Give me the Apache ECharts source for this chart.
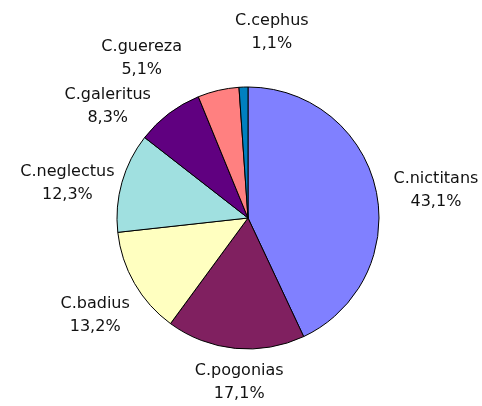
<!DOCTYPE html>
<html>
<head>
<meta charset="utf-8">
<script src="https://cdn.jsdelivr.net/npm/echarts@6/dist/echarts.min.js"></script>
<style>html,body{margin:0;padding:0;background:#fff}#c{width:482px;height:406px}</style>
</head>
<body>
<div id="c"></div>
<script>
// Data
const categories = ['C.nictitans', 'C.pogonias', 'C.badius', 'C.neglectus', 'C.galeritus', 'C.guereza', 'C.cephus'];
const values = [43.1, 17.1, 13.2, 12.3, 8.3, 5.1, 1.1];

// Style / layout constants
const colors = ['#8080FF', '#802060', '#FFFFC0', '#A0E0E0', '#600080', '#FF8080', '#0080C0'];
const CX = 248, CY = 218, R = 131;
// label placement (polar, relative to slice mid-angle), mimics spreadsheet label placement
const labelAngleNudge = [4.1, -2.5, -2.4, -4.8, -14.4, -20.5, 9.3];
const labelDist = [190, 165, 181, 184, 179, 192, 187];

const total = values.reduce((a, b) => a + b, 0);
const midAngles = [];
let acc = 0;
values.forEach(v => { midAngles.push((acc + v / 2) / total * 360); acc += v; });

const chart = echarts.init(document.getElementById('c'), null, {renderer: 'canvas'});
chart.setOption({
  animation: false,
  backgroundColor: '#fff',
  series: [{
    type: 'pie',
    center: [CX, CY],
    radius: R,
    startAngle: 90,
    clockwise: true,
    avoidLabelOverlap: false,
    data: categories.map((n, i) => ({name: n, value: values[i], itemStyle: {color: colors[i]}})),
    itemStyle: {borderColor: '#000', borderWidth: 1},
    label: {
      show: true,
      position: 'outside',
      formatter: p => p.name + '\n' + String(p.value).replace('.', ',') + '%',
      fontFamily: 'DejaVu Sans',
      fontSize: 16,
      lineHeight: 23,
      color: '#111',
      align: 'center'
    },
    labelLine: {show: false},
    emphasis: {disabled: true},
    labelLayout: function (params) {
      const i = params.dataIndex;
      const a = (midAngles[i] + labelAngleNudge[i]) * Math.PI / 180;
      const d = labelDist[i];
      return {
        x: CX + d * Math.sin(a),
        y: CY - d * Math.cos(a),
        align: 'center',
        verticalAlign: 'middle'
      };
    }
  }]
});
</script>
</body>
</html>
